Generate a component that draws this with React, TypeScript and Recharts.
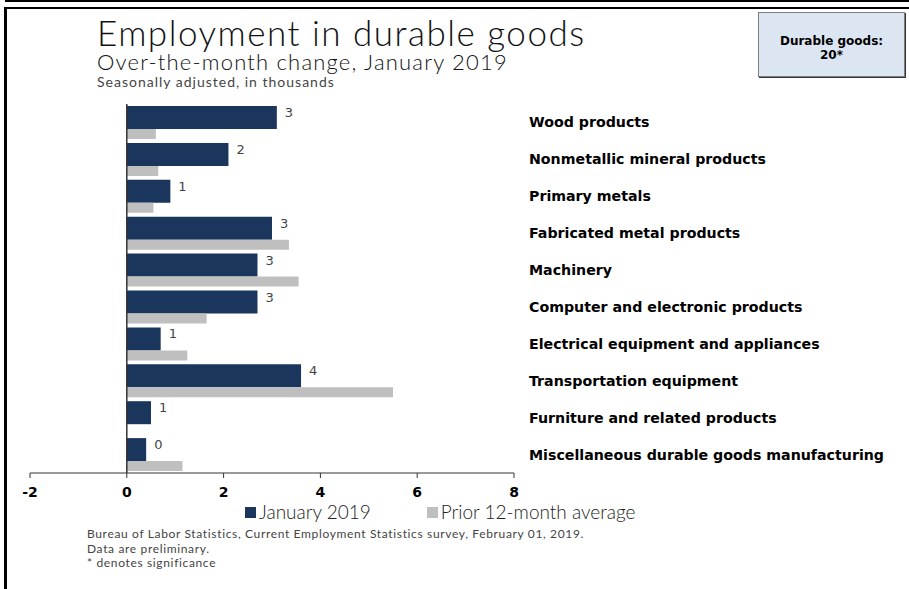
import React from 'react';
import { BarChart, Bar, XAxis, YAxis, ReferenceLine, LabelList } from 'recharts';

// Over-the-month change, in thousands
const industries = [
  'Wood products',
  'Nonmetallic mineral products',
  'Primary metals',
  'Fabricated metal products',
  'Machinery',
  'Computer and electronic products',
  'Electrical equipment and appliances',
  'Transportation equipment',
  'Furniture and related products',
  'Miscellaneous durable goods manufacturing',
];
const january2019 = [3.1, 2.1, 0.9, 3.0, 2.7, 2.7, 0.7, 3.6, 0.5, 0.4];
const prior12Avg = [0.6, 0.65, 0.55, 3.35, 3.55, 1.65, 1.25, 5.5, 0, 1.15];
const xTicks = [-2, 0, 2, 4, 6, 8];

const NAVY = '#1b365d';
const GRAY = '#bfbfbf';
const LIGHT = 'Lato, "Open Sans", "Liberation Sans", sans-serif';
const BOLD = '"DejaVu Sans", Verdana, sans-serif';

const data = industries.map((name, i) => ({
  name,
  jan: january2019[i],
  avg: prior12Avg[i],
}));

const CategoryTick = (props: any) => {
  const { x, y, payload } = props;
  return (
    <text x={x} y={y} dy="0.35em" textAnchor="start" fontFamily={BOLD} fontWeight="bold" fontSize={14.2} fill="#000">
      {payload.value}
    </text>
  );
};

const ValueLabel = (props: any) => {
  const { x, y, width, height, value } = props;
  return (
    <text x={x + width + 8} y={y + height / 2 - 5} dy="0.35em" fontFamily={BOLD} fontSize={13} fill="#444">
      {Math.round(value)}
    </text>
  );
};

export default function App() {
  return (
    <div style={{ position: 'absolute', left: 0, top: 0, width: 909, height: 589, background: '#fff', overflow: 'hidden' }}>
      {/* frame lines */}
      <div style={{ position: 'absolute', left: 5, top: 0, width: 904, height: 2, background: '#000' }} />
      <div style={{ position: 'absolute', left: 5, top: 7, width: 904, height: 2, background: '#000' }} />
      <div style={{ position: 'absolute', left: 4, top: 7, width: 3, height: 582, background: '#000' }} />

      <div style={{ position: 'absolute', left: 97, top: 15, fontFamily: LIGHT, fontWeight: 300, fontSize: 35, lineHeight: '34px', letterSpacing: 1.5, color: '#111', whiteSpace: 'nowrap' }}>
        Employment in durable goods
      </div>
      <div style={{ position: 'absolute', left: 97, top: 51, fontFamily: LIGHT, fontWeight: 300, fontSize: 22, lineHeight: '22px', letterSpacing: 1.2, color: '#111', whiteSpace: 'nowrap' }}>
        Over-the-month change, January 2019
      </div>
      <div style={{ position: 'absolute', left: 97, top: 74, fontFamily: LIGHT, fontSize: 14, lineHeight: '15px', letterSpacing: 1.0, color: '#444', whiteSpace: 'nowrap' }}>
        Seasonally adjusted, in thousands
      </div>

      <div style={{ position: 'absolute', left: 758, top: 12, width: 147, height: 65, background: '#dce6f2', border: '1px solid #7f7f7f', boxShadow: '1px 1px 0 #333', boxSizing: 'border-box', fontFamily: BOLD, fontWeight: 'bold', fontSize: 12, lineHeight: '14px', textAlign: 'center', paddingTop: 21, color: '#000' }}>
        Durable goods:<br />20*
      </div>

      <div style={{ position: 'absolute', left: 0, top: 0 }}>
        <BarChart
          width={909}
          height={589}
          data={data}
          layout="vertical"
          barGap={0}
          margin={{ top: 104, left: 30, right: 15, bottom: 86 }}
        >
          <XAxis
            type="number"
            domain={[-2, 8]}
            ticks={xTicks}
            interval={0}
            height={30}
            axisLine={{ stroke: '#333' }}
            tickLine={{ stroke: '#333' }}
            tickSize={5}
            tickMargin={9}
            tick={{ fill: '#000', fontSize: 14, fontWeight: 'bold', fontFamily: BOLD }}
          />
          <YAxis
            type="category"
            dataKey="name"
            orientation="right"
            width={380}
            axisLine={false}
            tickLine={false}
            tickMargin={9}
            interval={0}
            tick={<CategoryTick />}
          />
          <ReferenceLine x={0} stroke="#333" strokeWidth={1.5} />
          <Bar dataKey="jan" name="January 2019" fill={NAVY} barSize={23} isAnimationActive={false}>
            <LabelList dataKey="jan" content={<ValueLabel />} />
          </Bar>
          <Bar dataKey="avg" name="Prior 12-month average" fill={GRAY} barSize={10} isAnimationActive={false} />
        </BarChart>
      </div>

      {/* legend */}
      <div style={{ position: 'absolute', left: 245, top: 501, display: 'flex', alignItems: 'center', fontFamily: LIGHT, fontWeight: 300, fontSize: 19, lineHeight: '22px', color: '#222', whiteSpace: 'nowrap' }}>
        <span style={{ display: 'inline-block', width: 11, height: 11, background: NAVY, marginRight: 3 }} />
        <span>January 2019</span>
        <span style={{ display: 'inline-block', width: 11, height: 11, background: GRAY, marginLeft: 56, marginRight: 3 }} />
        <span>Prior 12-month average</span>
      </div>

      <div style={{ position: 'absolute', left: 87, top: 527, fontFamily: LIGHT, fontSize: 12, lineHeight: '14.5px', letterSpacing: 0.65, color: '#444', whiteSpace: 'nowrap' }}>
        Bureau of Labor Statistics, Current Employment Statistics survey, February 01, 2019.<br />
        Data are preliminary.<br />
        * denotes significance
      </div>
    </div>
  );
}
